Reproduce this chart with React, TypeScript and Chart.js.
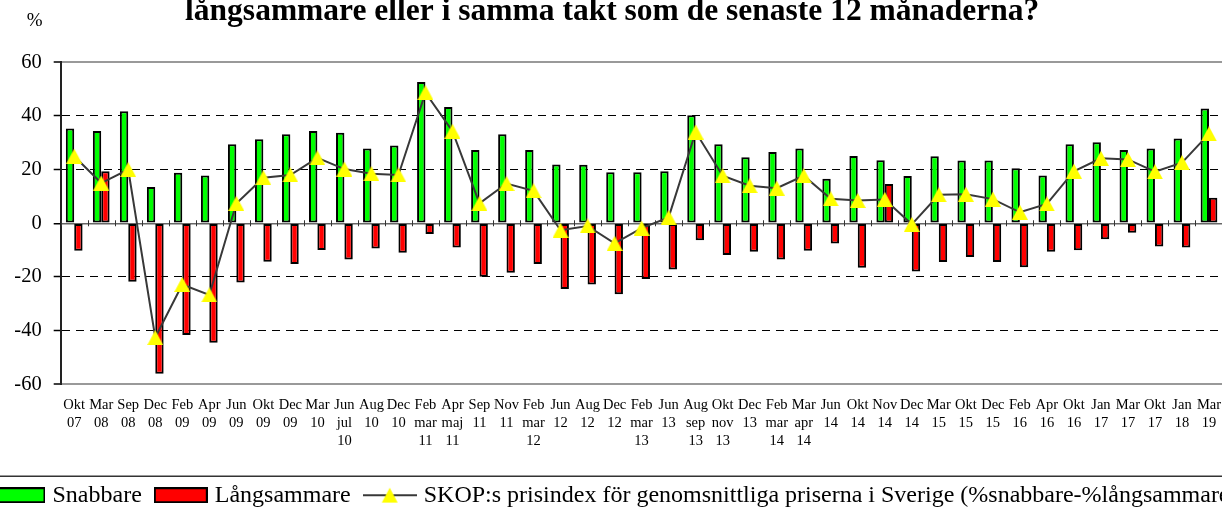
import React, { useEffect, useRef } from "react";
import { Chart, registerables } from "chart.js";

Chart.register(...registerables);

const FONT = "'Liberation Serif', 'Times New Roman', serif";

const titleText = "långsammare eller i samma takt som de senaste 12 månaderna?";
const yUnit = "%";

const categories: string[][] = [
  ["Okt", "07"], ["Mar", "08"], ["Sep", "08"], ["Dec", "08"], ["Feb", "09"], ["Apr", "09"],
  ["Jun", "09"], ["Okt", "09"], ["Dec", "09"], ["Mar", "10"], ["Jun", "jul", "10"], ["Aug", "10"],
  ["Dec", "10"], ["Feb", "mar", "11"], ["Apr", "maj", "11"], ["Sep", "11"], ["Nov", "11"],
  ["Feb", "mar", "12"], ["Jun", "12"], ["Aug", "12"], ["Dec", "12"], ["Feb", "mar", "13"],
  ["Jun", "13"], ["Aug", "sep", "13"], ["Okt", "nov", "13"], ["Dec", "13"], ["Feb", "mar", "14"],
  ["Mar", "apr", "14"], ["Jun", "14"], ["Okt", "14"], ["Nov", "14"], ["Dec", "14"], ["Mar", "15"],
  ["Okt", "15"], ["Dec", "15"], ["Feb", "16"], ["Apr", "16"], ["Okt", "16"], ["Jan", "17"],
  ["Mar", "17"], ["Okt", "17"], ["Jan", "18"], ["Mar", "19"],
];

const snabbare = [
  35.3, 34.4, 41.8, 13.5, 18.8, 17.8, 29.5, 31.3, 33.2, 34.4, 33.7, 27.9, 29.0, 52.7, 43.3,
  27.3, 33.2, 27.3, 21.9, 21.8, 19.0, 19.0, 19.4, 40.3, 29.5, 24.6, 26.6, 27.9, 16.6, 25.1,
  23.5, 17.6, 25.0, 23.4, 23.4, 20.5, 17.8, 29.5, 30.2, 27.3, 27.9, 31.6, 42.8,
];

const langsammare = [
  -10.2, 19.4, -21.8, -56.1, -41.6, -44.5, -22.1, -14.3, -15.2, -10.0, -13.5, -9.4, -11.0, -4.0,
  -9.0, -19.9, -18.4, -15.2, -24.5, -22.8, -26.5, -20.8, -17.2, -6.3, -11.8, -10.6, -13.5, -10.2,
  -7.5, -16.6, 14.6, -18.0, -14.4, -12.6, -14.4, -16.4, -10.6, -10.1, -6.0, -3.5, -8.7, -9.0, 9.5,
];

const prisindex = [
  25.0, 15.0, 20.0, -42.6, -22.8, -26.7, 7.4, 17.0, 18.0, 24.4, 20.2, 18.5, 18.0, 48.7, 34.3,
  7.4, 14.8, 12.1, -2.6, -1.0, -7.5, -1.8, 2.2, 34.0, 17.7, 14.0, 13.1, 17.7, 9.1, 8.5, 8.9,
  -0.4, 10.6, 10.8, 9.0, 4.1, 7.2, 19.4, 24.2, 23.8, 19.2, 22.6, 33.3,
];

const yTicks = [-60, -40, -20, 0, 20, 40, 60];

const legendLabels = [
  "Snabbare",
  "Långsammare",
  "SKOP:s prisindex för genomsnittliga priserna i Sverige (%snabbare-%långsammare)",
];

const GREEN = "#00FF00";
const RED = "#FF0000";
const LINE = "#383838";
const YELLOW = "#FFFF00";

// canvas is wider than the viewport; it starts OFFSET px left of the viewport
const OFFSET = 30;
const CW = 1294;
const CH = 530;

function makeBox(fill: string) {
  const c = document.createElement("canvas");
  c.width = 54;
  c.height = 16;
  const g = c.getContext("2d")!;
  g.fillStyle = fill;
  g.fillRect(0, 0, 54, 16);
  g.strokeStyle = "#000";
  g.lineWidth = 2;
  g.strokeRect(1, 1, 52, 14);
  return c;
}

function makeTriangle() {
  const c = document.createElement("canvas");
  c.width = 16;
  c.height = 15;
  const g = c.getContext("2d")!;
  g.fillStyle = YELLOW;
  g.beginPath();
  g.moveTo(8, 0);
  g.lineTo(16, 15);
  g.lineTo(0, 15);
  g.closePath();
  g.fill();
  return c;
}

function makeLineSample() {
  const c = document.createElement("canvas");
  c.width = 54;
  c.height = 16;
  const g = c.getContext("2d")!;
  g.strokeStyle = LINE;
  g.lineWidth = 2;
  g.beginPath();
  g.moveTo(0, 8);
  g.lineTo(54, 8);
  g.stroke();
  g.fillStyle = YELLOW;
  g.beginPath();
  g.moveTo(27, 0.5);
  g.lineTo(35, 15.5);
  g.lineTo(19, 15.5);
  g.closePath();
  g.fill();
  return c;
}

const decorPlugin = {
  id: "decor",
  beforeDatasetsDraw(chart: any) {
    const { ctx, scales } = chart;
    const xs = scales.x;
    const ys = scales.y;
    const y0 = ys.getPixelForValue(0);
    const n = categories.length;
    const half = (xs.getPixelForValue(1) - xs.getPixelForValue(0)) / 2;
    ctx.save();
    ctx.strokeStyle = "#333";
    ctx.lineWidth = 1;
    for (let i = 0; i <= n; i++) {
      const px = Math.round(xs.getPixelForValue(i) - half) + 0.5;
      ctx.beginPath();
      ctx.moveTo(px, y0 - 3);
      ctx.lineTo(px, y0 + 3);
      ctx.stroke();
    }
    ctx.restore();
  },
  afterDraw(chart: any) {
    const { ctx, chartArea, legend } = chart;
    ctx.save();
    // title (only its lower line is inside the picture)
    ctx.fillStyle = "#000";
    ctx.font = `bold 31.5px ${FONT}`;
    ctx.textAlign = "center";
    ctx.textBaseline = "alphabetic";
    ctx.fillText(titleText, chartArea.left + 551.5, chartArea.top - 42);
    // unit label
    ctx.font = `19px ${FONT}`;
    ctx.textBaseline = "middle";
    ctx.fillText(yUnit, chartArea.left - 26, chartArea.top - 41);
    // legend frame top edge
    ctx.strokeStyle = "#333";
    ctx.lineWidth = 1.5;
    const ly = Math.round(legend.top + 10) + 0.25;
    ctx.beginPath();
    ctx.moveTo(0, ly);
    ctx.lineTo(chart.width, ly);
    ctx.stroke();
    ctx.restore();
  },
};

export default function App() {
  const ref = useRef<HTMLCanvasElement | null>(null);

  useEffect(() => {
    if (!ref.current) return;
    const tri = makeTriangle();
    const legendImgs = [makeBox(GREEN), makeBox(RED), makeLineSample()];
    const dashed = [20, 40, -20, -40];

    const chart = new Chart(ref.current, {
      type: "bar",
      data: {
        labels: categories,
        datasets: [
          {
            type: "line",
            label: legendLabels[2],
            data: prisindex,
            borderColor: LINE,
            borderWidth: 2,
            pointStyle: tri as any,
            pointRadius: 8,
            pointHoverRadius: 8,
            fill: false,
            tension: 0,
            order: 0,
          } as any,
          {
            type: "bar",
            label: legendLabels[0],
            data: snabbare,
            backgroundColor: GREEN,
            borderColor: "#000",
            borderWidth: 2,
            borderSkipped: false,
            categoryPercentage: 0.62,
            barPercentage: 1.0,
            order: 1,
          } as any,
          {
            type: "bar",
            label: legendLabels[1],
            data: langsammare,
            backgroundColor: RED,
            borderColor: "#000",
            borderWidth: 2,
            borderSkipped: false,
            categoryPercentage: 0.62,
            barPercentage: 1.0,
            order: 2,
          } as any,
        ],
      },
      options: {
        responsive: false,
        animation: false,
        events: [],
        layout: { padding: { left: 0, right: 0, top: 62.3, bottom: 12.75 } },
        scales: {
          x: {
            type: "category",
            offset: true,
            grid: { display: false, drawTicks: false },
            border: { display: false },
            ticks: {
              autoSkip: false,
              maxRotation: 0,
              minRotation: 0,
              padding: 11.6,
              color: "#000",
              font: { family: FONT, size: 14.5, lineHeight: 1.262 },
            },
            afterFit: (s: any) => {
              s.height = 82;
            },
          },
          y: {
            type: "linear",
            position: "left",
            min: -60,
            max: 60,
            afterBuildTicks: (s: any) => {
              s.ticks = yTicks.map((v) => ({ value: v }));
            },
            ticks: {
              padding: 12,
              color: "#000",
              font: { family: FONT, size: 20.5 },
              callback: (v: any) => String(v),
            },
            grid: {
              color: (c: any) => {
                const v = c.tick ? c.tick.value : null;
                if (v === 0) return "#666";
                if (v === 60 || v === -60) return "#999";
                return "#000";
              },
              lineWidth: (c: any) => {
                const v = c.tick ? c.tick.value : null;
                if (v === 60 || v === -60) return 2;
                if (v === 0) return 1.5;
                return 1;
              },
              tickColor: "#000",
              tickWidth: 1.5,
              tickLength: 7,
            },
            border: {
              display: true,
              color: "#222",
              width: 2,
              dash: (c: any) => (c.tick && dashed.includes(c.tick.value) ? [8, 6] : []),
            } as any,
            afterFit: (s: any) => {
              s.width = 60.7 + OFFSET;
            },
          },
          y2: {
            type: "linear",
            position: "right",
            display: true,
            grid: { display: false, drawTicks: false },
            border: { display: false },
            ticks: { display: false },
            afterFit: (s: any) => {
              s.width = CW - (1222.5 + OFFSET);
            },
          },
        },
        plugins: {
          tooltip: { enabled: false },
          title: { display: false },
          legend: {
            display: true,
            position: "bottom",
            labels: {
              usePointStyle: true,
              pointStyleWidth: 44,
              boxHeight: 16,
              padding: 17,
              color: "#000",
              font: { family: FONT, size: 24 },
              generateLabels: () =>
                legendLabels.map((t, i) => ({
                  text: t,
                  pointStyle: legendImgs[i] as any,
                  fillStyle: "transparent",
                  strokeStyle: "transparent",
                  lineWidth: 0,
                  hidden: false,
                  datasetIndex: [1, 2, 0][i],
                  fontColor: "#000",
                })),
            },
          },
        },
      } as any,
      plugins: [decorPlugin],
    });
    return () => chart.destroy();
  }, []);

  return (
    <div
      style={{
        position: "fixed",
        left: 0,
        top: 0,
        width: 1222,
        height: 508,
        overflow: "hidden",
        background: "#fff",
      }}
    >
      <canvas
        ref={ref}
        width={CW}
        height={CH}
        style={{ position: "absolute", left: -OFFSET, top: 0, width: CW, height: CH }}
      />
    </div>
  );
}
